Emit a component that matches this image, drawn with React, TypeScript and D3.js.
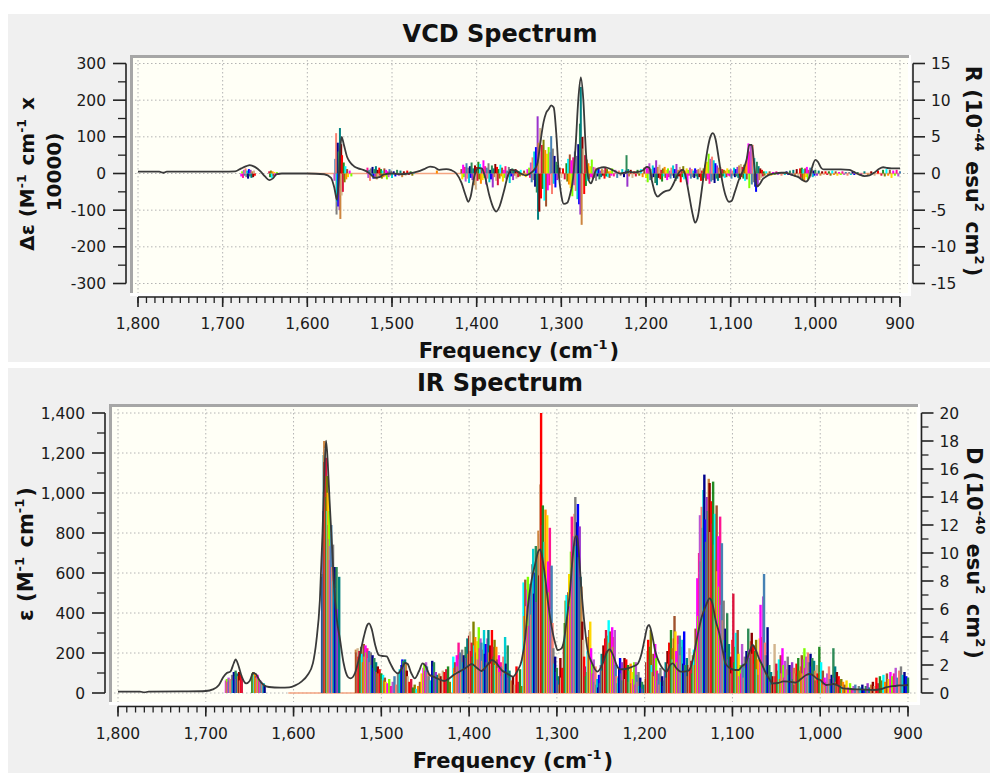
import React from "react";
import * as d3 from "d3";

const xMajorTicks = [1800, 1700, 1600, 1500, 1400, 1300, 1200, 1100, 1000, 900];
const vcdLeftTicks = [-300, -200, -100, 0, 100, 200, 300];
const vcdRightTicks = [-15, -10, -5, 0, 5, 10, 15];
const irLeftTicks = [0, 200, 400, 600, 800, 1000, 1200, 1400];
const irRightTicks = [0, 2, 4, 6, 8, 10, 12, 14, 16, 18, 20];

// Smoothed (broadened) VCD spectrum: [frequency cm-1, Δε]
const vcdCurve: [number, number][] = [
  [1800, 5], [1775, 5], [1770, 2], [1766, 5], [1700, 5], [1685, 6], [1678, 14], [1672, 20], [1668, 23], [1662, 18],
  [1655, 5], [1650, -8], [1645, -18], [1641, -14], [1636, -2], [1630, 0], [1600, 0], [1580, -2], [1572, -12], [1568, -40],
  [1565, -72], [1563, -20], [1561, 70], [1559.5, 100], [1557, 80], [1553, 45], [1550, 32], [1545, 20], [1540, 14], [1534, 10],
  [1528, 3], [1524, -5], [1520, -12], [1515, -10], [1510, -3], [1500, 0], [1490, -2], [1480, 0], [1470, 5], [1462, 12],
  [1455, 19], [1450, 17], [1444, 10], [1436, 12], [1430, 9], [1424, 0], [1418, -25], [1413, -60], [1410, -77], [1407, -62],
  [1403, -10], [1398, 15], [1394, 14], [1390, -10], [1385, -60], [1380, -95], [1377, -104], [1373, -90], [1368, -50], [1363, -5],
  [1359, 10], [1354, 8], [1348, 0], [1342, -5], [1337, 0], [1332, 10], [1328, 30], [1325, 80], [1321, 140], [1318, 165],
  [1315, 175], [1312, 186], [1309, 180], [1306, 110], [1303, 0], [1300, -60], [1297, -83], [1293, -80], [1290, -60], [1286, -10],
  [1283, 80], [1280, 200], [1277, 262], [1274, 200], [1271, 60], [1268, -15], [1265, -27], [1262, -10], [1259, 10], [1255, 15],
  [1250, 17], [1245, 15], [1240, 10], [1235, 4], [1230, 0], [1225, 2], [1220, 5], [1214, 3], [1208, 5], [1204, 8],
  [1199, 18], [1196, 15], [1193, -20], [1189, -55], [1186, -63], [1182, -55], [1177, -48], [1172, -45], [1168, -30], [1163, -5],
  [1159, 8], [1156, 10], [1153, -10], [1149, -60], [1145, -110], [1142, -134], [1139, -120], [1135, -60], [1131, 10], [1127, 70],
  [1124, 100], [1121, 110], [1118, 95], [1114, 40], [1110, -20], [1106, -60], [1102, -77], [1099, -75], [1095, -50], [1090, -15],
  [1085, 10], [1081, 40], [1078, 78], [1075, 78], [1072, 20], [1069, -36], [1066, -30], [1062, -15], [1058, -8], [1054, -3],
  [1048, 0], [1040, 2], [1035, 2], [1030, -2], [1025, -6], [1020, -10], [1015, -18], [1011, -22], [1007, -10], [1004, 15],
  [1000, 37], [997, 32], [993, 15], [990, 11], [980, 11], [970, 11], [960, 10], [955, 5], [948, -3], [942, -7],
  [936, -5], [930, 3], [925, 12], [920, 17], [915, 15], [910, 14], [900, 14],
];

// Smoothed IR spectrum: [frequency cm-1, ε]
const irCurve: [number, number][] = [
  [1800, 7], [1775, 7], [1770, 3], [1765, 7], [1720, 8], [1700, 10], [1692, 18], [1685, 40], [1680, 80], [1676, 100],
  [1672, 107], [1668, 150], [1666, 168], [1663, 140], [1659, 82], [1654, 48], [1650, 60], [1646, 100], [1643, 95], [1639, 65],
  [1634, 40], [1628, 30], [1615, 27], [1605, 28], [1598, 38], [1591, 57], [1584, 90], [1578, 148], [1574, 260], [1570, 465],
  [1567, 800], [1565, 1080], [1563, 1262], [1561, 1150], [1559, 965], [1556, 720], [1554, 548], [1551, 380], [1547, 265], [1543, 150],
  [1538, 80], [1535, 73], [1530, 100], [1525, 180], [1520, 280], [1516, 340], [1514, 348], [1511, 320], [1507, 240], [1503, 190],
  [1499, 185], [1494, 183], [1490, 150], [1485, 110], [1481, 98], [1477, 120], [1473, 150], [1470, 145], [1466, 100], [1462, 73],
  [1457, 110], [1453, 148], [1449, 130], [1445, 90], [1441, 82], [1435, 70], [1428, 60], [1422, 75], [1416, 95], [1411, 107],
  [1404, 125], [1397, 145], [1391, 125], [1386, 110], [1380, 135], [1374, 165], [1369, 150], [1363, 115], [1357, 98], [1350, 82],
  [1345, 110], [1340, 165], [1336, 280], [1333, 432], [1329, 560], [1325, 640], [1321, 710], [1319, 718], [1316, 660], [1313, 565],
  [1310, 450], [1306, 332], [1302, 250], [1299, 215], [1295, 222], [1292, 260], [1289, 360], [1285, 515], [1282, 680], [1279, 780],
  [1277, 785], [1275, 700], [1272, 515], [1268, 320], [1265, 215], [1260, 150], [1254, 107], [1248, 145], [1244, 195], [1240, 218],
  [1236, 190], [1232, 140], [1228, 118], [1222, 120], [1216, 128], [1212, 135], [1208, 145], [1204, 190], [1200, 270], [1197, 330],
  [1195, 340], [1192, 300], [1188, 210], [1183, 148], [1179, 120], [1175, 107], [1171, 140], [1168, 148], [1164, 125], [1159, 107],
  [1153, 108], [1149, 115], [1145, 170], [1140, 282], [1135, 380], [1130, 440], [1126, 473], [1123, 450], [1119, 360], [1115, 298],
  [1111, 210], [1108, 148], [1103, 125], [1097, 115], [1093, 115], [1089, 135], [1085, 148], [1081, 200], [1077, 240], [1073, 210],
  [1069, 165], [1067, 148], [1062, 100], [1058, 70], [1054, 48], [1048, 50], [1042, 58], [1035, 57], [1028, 52], [1022, 70],
  [1016, 90], [1012, 95], [1008, 88], [1004, 72], [1000, 65], [996, 48], [993, 40], [989, 42], [985, 45], [980, 38],
  [974, 23], [965, 20], [955, 18], [945, 16], [940, 15], [930, 20], [925, 28], [921, 32], [915, 35], [910, 38],
  [905, 38], [900, 40],
];

// Rotational strengths of individual conformers: [frequency cm-1, R (10^-44 esu^2 cm^2)]
const vcdSticks: [number, number][] = [
  [1678, -0.4], [1677, 0.3], [1676, -0.6], [1675, 0.5], [1674, -0.3], [1673, 0.7], [1672, -0.5], [1671, 0.4], [1670, -0.7], [1669, 0.6],
  [1668, -0.4], [1667, 0.5], [1666, -0.6], [1665, 0.3], [1664, -0.5], [1663, 0.4], [1662, -0.3], [1645, 0.3], [1644, -0.5], [1643, 0.4],
  [1642, -0.6], [1641, 0.3], [1640, -0.4], [1639, 0.2], [1638, -0.3], [1636, 0.2], [1634, -0.2],
  [1568, -1.0], [1567, 2.0], [1566, 5.5], [1565.5, -5.6], [1565, -3.8], [1564, 4.2], [1563.5, -4.5], [1563, 3.0], [1562, -5.0], [1561.5, 6.2],
  [1561, -6.2], [1560, 4.0], [1559.5, -3.0], [1559, 2.5], [1558, -2.5], [1557, 1.5], [1556, -1.2], [1555, 1.0], [1554, -0.8], [1553, 0.6],
  [1552, -0.5], [1550, 0.4], [1548, -0.4],
  [1529, 0.8], [1528, -0.6], [1527, 0.5], [1526, -1.0], [1525, 0.7], [1524, -0.4], [1523, 0.9], [1522, -0.7], [1521, 0.6], [1520, -0.5],
  [1519, 1.0], [1518, -0.8], [1517, 0.5], [1516, -0.6], [1515, 0.8], [1514, -0.3], [1513, 0.6], [1512, -0.7], [1511, 0.4], [1510, -0.5],
  [1509, 0.7], [1508, -0.4], [1507, 0.5], [1506, -0.8], [1505, 0.3], [1504, -0.5], [1503, 0.6], [1502, -0.3], [1501, 0.4], [1500, -0.6],
  [1498, 0.3], [1496, -0.4], [1494, 0.5], [1492, -0.3], [1490, 0.4], [1488, -0.5], [1486, 0.3], [1484, -0.3], [1482, 0.4], [1480, -0.2],
  [1478, 0.3], [1476, -0.3], [1474, 0.2], [1447, 0.4],
  [1418, 0.6], [1417, -0.8], [1416, 1.2], [1415, -0.5], [1414, 0.9], [1413, -1.1], [1412, 1.4], [1411, -0.7], [1410, 0.8], [1409, -1.3],
  [1408, 1.0], [1407, -0.6], [1406, 1.5], [1405, -0.9], [1404, 0.7], [1403, -1.6], [1402, 1.1], [1401, -2.2], [1400, 0.9], [1399, -1.0],
  [1398, 1.6], [1397, -0.8], [1396, 1.3], [1395, -1.4], [1394, 0.6], [1393, -0.9], [1392, 1.8], [1391, -0.6], [1390, 1.0], [1389, -1.5],
  [1388, 0.8], [1387, -0.7], [1386, 1.4], [1385, -1.2], [1384, 0.5], [1383, -0.8], [1382, 1.1], [1381, -1.9], [1380, 0.7], [1379, -0.5],
  [1378, 1.3], [1377, -1.0], [1376, 0.9], [1375, -1.6], [1374, 0.6], [1373, -0.7], [1372, 1.2], [1371, -0.4], [1370, 0.8], [1369, -1.1],
  [1368, 0.5], [1367, -0.6], [1366, 1.0], [1365, -0.8], [1364, 0.4], [1363, -0.5], [1362, 0.9], [1361, -1.3], [1360, 0.6], [1359, -0.4],
  [1358, 0.7], [1357, -0.9], [1356, 0.5], [1355, -0.3], [1354, 0.6], [1353, -0.7], [1352, 0.4], [1351, -0.5], [1350, 0.3], [1349, -0.4],
  [1348, 0.5], [1346, -0.3], [1344, 0.4], [1342, -0.5], [1340, 0.6],
  [1338, 0.8], [1337, -0.6], [1336, 1.5], [1335, -1.2], [1334, 2.2], [1333, -0.9], [1332, 3.0], [1331, -1.8], [1330, 3.6], [1329, -2.6],
  [1328, 7.8], [1327.5, -6.3], [1327, 4.2], [1326, -5.2], [1325, 6.2], [1324, -3.4], [1323, 3.9], [1322, -2.1], [1321, 4.6], [1320, -3.7],
  [1319, 3.2], [1318, -4.5], [1317, 2.7], [1316, -2.3], [1315, 3.6], [1314, -1.6], [1313, 2.9], [1312, 5.1], [1311, -2.8], [1310, 3.4],
  [1309, -1.4], [1308, 2.4], [1307, -1.9], [1306, 1.6], [1305, -0.9], [1304, 1.2], [1303, -0.7], [1302, 0.8], [1300, -0.6], [1298, 0.7],
  [1296, -0.8], [1294, 1.4], [1293, -1.1], [1292, 2.0],
  [1291, -1.5], [1290, 2.6], [1289, -2.0], [1288, 1.8], [1287, -3.1], [1286, 2.2], [1285, -1.6], [1284, 3.0], [1283, -2.4], [1282, 2.4],
  [1281, -3.5], [1280, 4.0], [1279, -4.2], [1278, 6.8], [1277.5, -5.6], [1277, 11.8], [1276, -7.0], [1275, 5.0], [1274, 3.4], [1273, -2.8],
  [1272, 2.5], [1271, -1.7], [1270, 1.9], [1269, -1.0], [1268, 1.4], [1267, -0.8], [1266, 1.0], [1265, -0.5], [1264, 1.9], [1263, -0.7],
  [1262, 0.9],
  [1261, -0.6], [1260, 0.8], [1259, -1.0], [1258, 0.5], [1257, -0.4], [1256, 0.7], [1255, -0.8], [1254, 0.4], [1253, -0.5], [1252, 0.6],
  [1251, -0.3], [1250, 0.5], [1249, -0.7], [1248, 0.9], [1247, -0.4], [1246, 0.6], [1245, -0.5], [1244, 0.3], [1243, -0.6], [1242, 0.4],
  [1241, -0.3], [1240, 0.7], [1238, -0.4], [1236, 0.5], [1234, -0.6], [1232, 0.4], [1230, -0.3], [1228, 0.6], [1226, -0.5], [1224, 0.4],
  [1223, 2.5], [1222, -1.8], [1221, 0.6], [1220, -0.4], [1218, 0.5], [1216, -0.6], [1214, 0.3], [1212, -0.4], [1210, 0.5], [1208, -0.3],
  [1206, 0.6], [1204, -0.5], [1202, 0.8], [1200, -0.6], [1199, 1.0], [1198, -1.2], [1197, 0.7], [1196, 1.4], [1195, -0.9], [1194, 0.6],
  [1193, -0.7], [1192, 1.1], [1191, -0.5], [1190, 0.8],
  [1189, -1.3], [1188, 1.8], [1187, -1.6], [1186, 0.9], [1185, -0.6], [1184, 1.2], [1183, -0.8], [1182, 0.5], [1181, -1.1], [1180, 0.7],
  [1179, -0.4], [1178, 0.9], [1177, -0.6], [1176, 0.5], [1175, -0.9], [1174, 0.7], [1173, -0.5], [1172, 0.4], [1171, -0.7], [1170, 0.8],
  [1169, -0.3], [1168, 1.1], [1167, -0.6], [1166, 0.6], [1165, -1.0], [1164, 1.3], [1163, -0.7], [1162, 0.5], [1161, -0.4], [1160, 0.9],
  [1159, -1.2], [1158, 0.6], [1157, -0.5], [1156, 1.0], [1155, -0.8], [1154, 0.4], [1153, -0.6], [1152, 0.7], [1151, -1.5], [1150, 0.5],
  [1149, -0.3], [1148, 0.8], [1147, -0.7], [1146, 0.6], [1145, -0.5], [1144, 0.4], [1143, -0.6], [1142, 0.7], [1141, -0.4], [1140, 0.5],
  [1139, -0.8], [1138, 0.6], [1137, -0.5], [1136, 0.8], [1135, -1.0], [1134, 0.4], [1133, -0.9], [1132, 0.7],
  [1131, -0.6], [1130, 1.2], [1129, -1.0], [1128, 1.6], [1127, -0.8], [1126, 2.7], [1125, -1.4], [1124, 2.0], [1123, -1.1], [1122, 2.3],
  [1121, -0.9], [1120, 1.8], [1119, -1.3], [1118, 1.4], [1117, -0.7], [1116, 1.1], [1115, -1.0], [1114, 0.8], [1113, -0.6], [1112, 0.9],
  [1111, -0.5], [1110, 0.6], [1109, -0.4], [1108, 0.5], [1107, -0.6], [1106, 0.4], [1105, -0.5], [1104, 0.7], [1103, -0.3], [1102, 0.5],
  [1101, -0.4], [1100, 0.6], [1099, -0.7], [1098, 0.4], [1097, -0.3], [1096, 0.8], [1095, -0.5], [1094, 0.6], [1093, -0.4], [1092, 0.9],
  [1091, -0.6], [1090, 1.1], [1089, -0.8], [1088, 1.3], [1087, -0.5],
  [1086, 0.9], [1085, -0.7], [1084, 1.2], [1083, -1.0], [1082, 1.6], [1081, -0.8], [1080, 2.4], [1079, 4.1], [1078, -2.0], [1077, 3.0],
  [1076, 4.0], [1075, -1.5], [1074, 3.9], [1073, -1.2], [1072, 2.1], [1071, -1.8], [1070, -2.5], [1069, 1.6], [1068, -1.8], [1067, 1.0],
  [1066, -0.9], [1065, 0.7], [1064, -0.6], [1063, 0.5], [1062, -0.4], [1061, 0.3], [1060, -0.3],
  [1058, 0.3], [1056, -0.2], [1054, 0.3], [1052, -0.3], [1050, 0.2], [1048, -0.2], [1046, 0.3], [1044, -0.2], [1042, 0.2], [1040, -0.3],
  [1038, 0.2], [1036, -0.2], [1034, 0.3], [1032, -0.2], [1030, 0.4], [1028, -0.3], [1026, 0.5], [1024, -0.4], [1022, 0.6], [1020, -0.5],
  [1018, 0.7], [1017, -0.6], [1016, 0.8], [1015, -0.9], [1014, 0.6], [1013, -1.1], [1012, 0.7], [1011, -0.5], [1010, 0.9], [1009, -0.8],
  [1008, 0.5], [1007, -0.6], [1006, 0.8], [1005, -0.4], [1004, 0.6], [1003, -0.5], [1002, 0.4], [1001, -0.3], [1000, 0.5], [998, -0.3],
  [996, 0.4], [994, -0.3], [992, 0.3], [990, -0.2], [988, 0.3], [986, -0.2], [984, 0.3], [982, -0.3], [980, 0.4], [978, -0.2],
  [976, 0.3], [974, -0.3], [972, 0.2], [970, -0.2], [968, 0.3], [966, -0.2], [964, 0.2], [962, -0.3], [960, 0.2], [958, -0.2],
  [956, 0.3], [954, -0.2], [950, 0.2], [946, -0.2], [942, 0.3], [938, -0.2], [934, 0.3], [930, -0.3], [926, 0.4], [922, -0.3],
  [920, 0.5], [918, -0.4], [916, 0.6], [914, -0.3], [912, 0.5], [910, -0.6], [908, 0.4], [906, -0.3], [904, 0.5], [902, -0.4],
  [900, 0.3],
];

// Dipole strengths of individual conformers: [frequency cm-1, D (10^-40 esu^2 cm^2)]
const irSticks: [number, number][] = [
  [1677, 0.9], [1676, 1.0], [1675, 0.8], [1674, 1.1], [1673, 0.9], [1672, 1.0], [1670, 1.3], [1669, 0.9], [1668, 1.5], [1667, 1.2],
  [1666, 1.6], [1665, 1.0], [1664, 1.4], [1663, 1.2], [1662, 1.5], [1661, 0.9], [1660, 1.3], [1659, 1.1],
  [1647, 1.4], [1646, 1.5], [1645, 1.3], [1644, 1.4], [1643, 1.2], [1642, 1.1], [1641, 1.3], [1640, 1.0], [1639, 0.9], [1638, 0.9],
  [1637, 0.8], [1636, 0.7], [1635, 0.6], [1634, 0.7], [1633, 0.5],
  [1567.5, 8.3], [1567, 8.5], [1566, 13.0], [1565.5, 17.0], [1565, 18.0], [1564.5, 16.5], [1564, 17.5], [1563.5, 15.0], [1563, 16.8], [1562.5, 14.0],
  [1562, 15.5], [1561.5, 13.0], [1561, 14.3], [1560.5, 12.0], [1560, 14.3], [1559.5, 11.0], [1559, 13.0], [1558.5, 9.5], [1558, 10.5], [1557, 12.0],
  [1556, 9.0], [1555, 10.6], [1554, 8.0], [1553, 9.0], [1552, 7.5], [1551, 9.0], [1550, 6.0], [1548, 8.3],
  [1529, 3.1], [1528, 2.9], [1527, 3.2], [1526, 2.6], [1525, 3.0], [1524, 2.4], [1523, 3.3], [1522, 2.8], [1521, 2.2], [1520, 3.5],
  [1519, 2.6], [1518, 3.4], [1517, 2.9], [1516, 3.2], [1515, 2.5], [1514, 3.0], [1513, 2.2], [1512, 2.9], [1511, 2.0], [1510, 2.7],
  [1509, 1.8], [1508, 2.5], [1507, 1.6], [1506, 2.2], [1505, 1.5], [1504, 1.9], [1503, 1.4], [1502, 1.7], [1501, 1.2], [1500, 1.4],
  [1499, 1.0], [1498, 1.3], [1497, 0.9], [1496, 1.1], [1495, 0.8],
  [1493, 0.7], [1491, 1.0], [1489, 0.5], [1487, 0.8], [1485, 1.2], [1483, 0.6], [1481, 1.4], [1479, 1.7], [1477, 2.0], [1476, 2.4],
  [1475, 2.3], [1474, 1.9], [1473, 2.4], [1472, 2.1], [1471, 1.6], [1470, 1.2], [1468, 0.8], [1466, 1.0], [1464, 0.4], [1462, 0.6],
  [1460, 0.3], [1458, 0.5], [1456, 0.8], [1454, 1.4], [1452, 1.8], [1451, 2.1], [1450, 1.6], [1449, 2.2], [1448, 1.9], [1447, 1.5],
  [1446, 1.2], [1444, 0.9], [1442, 2.3], [1441, 1.9], [1440, 2.2],
  [1438, 1.5], [1436, 1.3], [1434, 1.4], [1432, 1.2], [1430, 1.6], [1428, 1.5], [1426, 1.7], [1424, 1.9], [1422, 0.8],
  [1418, 2.6], [1417, 1.8], [1416, 2.2], [1415, 1.5], [1414, 2.7], [1413, 1.9], [1412, 3.6], [1411, 2.4], [1410, 2.9], [1409, 1.6],
  [1408, 3.1], [1407, 2.2], [1406, 2.7], [1405, 1.8], [1404, 3.3], [1403, 2.5], [1402, 3.9], [1401, 2.8], [1400, 4.1], [1399, 4.4],
  [1398, 3.0], [1397, 3.6], [1396, 2.6], [1395, 5.1], [1394, 3.4], [1393, 4.0], [1392, 2.9], [1391, 3.7], [1390, 2.4], [1389, 4.7],
  [1388, 3.2], [1387, 3.9], [1386, 3.6], [1385, 2.3], [1384, 3.1], [1383, 4.5], [1382, 2.8], [1381, 3.5], [1380, 2.2], [1379, 3.9],
  [1378, 4.5], [1377, 2.9], [1376, 3.4], [1375, 2.1], [1374, 4.5], [1373, 3.3], [1372, 2.6], [1371, 3.8], [1370, 2.0], [1369, 3.3],
  [1368, 2.4], [1367, 1.8], [1366, 2.7], [1365, 1.5], [1364, 2.2], [1363, 1.2], [1362, 1.9], [1361, 2.6], [1360, 1.4], [1359, 4.0],
  [1358, 2.1], [1357, 1.7], [1356, 3.4], [1355, 1.1], [1354, 1.6], [1352, 0.9], [1350, 1.2], [1348, 0.6], [1346, 1.9], [1344, 0.8],
  [1342, 1.7], [1340, 0.5],
  [1338, 7.9], [1337, 5.5], [1336, 8.1], [1335, 6.2], [1334, 7.4], [1333, 8.3], [1332, 4.8], [1331, 6.9], [1330, 7.8], [1329, 5.6],
  [1328, 9.2], [1327, 10.3], [1326, 7.1], [1325, 8.6], [1324, 10.5], [1323, 6.5], [1322, 9.8], [1321, 11.6], [1320, 8.4], [1319, 14.9],
  [1318, 20.0], [1317, 12.0], [1316, 13.4], [1315, 9.6], [1314, 10.8], [1313, 13.1], [1312, 8.0], [1311, 12.7], [1310, 9.4], [1309, 7.2],
  [1308, 11.8], [1307, 6.0], [1306, 9.1], [1305, 5.0], [1304, 3.2], [1303, 2.1], [1302, 2.6], [1301, 1.5], [1300, 1.8], [1299, 0.9],
  [1298, 1.2], [1297, 0.6], [1296, 2.5], [1295, 1.1], [1294, 1.8],
  [1292, 3.5], [1291, 5.0], [1290, 6.6], [1289, 7.0], [1288, 5.4], [1287, 7.2], [1286, 8.5], [1285, 6.2], [1284, 10.1], [1283, 12.6],
  [1282, 9.0], [1281, 11.2], [1280, 12.8], [1279, 14.0], [1278, 10.5], [1277, 12.2], [1276, 13.5], [1275, 9.7], [1274, 11.9], [1273, 8.3],
  [1272, 7.6], [1271, 5.1], [1270, 3.8], [1269, 2.6], [1268, 1.9], [1267, 1.2],
  [1266, 1.5], [1265, 3.0], [1264, 4.0], [1263, 4.5], [1262, 5.1], [1261, 3.2], [1260, 2.1], [1259, 1.4], [1258, 2.4], [1257, 0.8],
  [1256, 1.9], [1255, 0.6], [1254, 1.0], [1253, 0.4], [1252, 1.3], [1251, 0.7], [1250, 2.0], [1249, 2.8], [1248, 1.6], [1247, 3.4],
  [1246, 2.2], [1245, 3.9], [1244, 4.5], [1243, 3.0], [1242, 4.1], [1241, 5.2], [1240, 3.6], [1239, 4.4], [1238, 2.9], [1237, 4.7],
  [1236, 3.3], [1235, 4.0], [1234, 4.5], [1233, 2.0], [1232, 1.2], [1231, 0.7], [1230, 1.1], [1229, 1.8], [1228, 2.5], [1227, 1.4],
  [1226, 2.2], [1225, 0.9], [1224, 1.7], [1223, 2.5], [1222, 1.0], [1221, 2.4], [1220, 1.3], [1219, 2.0], [1218, 0.8], [1217, 1.6],
  [1216, 2.1], [1215, 0.7], [1214, 1.5], [1213, 1.0], [1212, 2.2], [1211, 0.6], [1210, 2.2], [1209, 1.3], [1208, 0.8], [1207, 1.5],
  [1206, 0.5], [1205, 1.1], [1204, 0.4], [1203, 0.8], [1202, 0.3], [1201, 0.6],
  [1199, 1.0], [1198, 2.2], [1197, 3.0], [1196, 3.8], [1195, 2.4], [1194, 3.3], [1193, 4.5], [1192, 2.0], [1191, 1.5], [1190, 2.8],
  [1189, 1.2], [1188, 3.5], [1187, 2.5], [1186, 1.6], [1185, 0.9], [1184, 1.4], [1183, 0.6], [1182, 1.8], [1181, 0.8], [1180, 1.2],
  [1179, 0.5], [1178, 0.9], [1177, 1.6], [1176, 2.2], [1175, 1.1], [1174, 3.0], [1173, 2.1], [1172, 3.6], [1171, 2.8], [1170, 4.5],
  [1169, 3.2], [1168, 2.4], [1167, 3.9], [1166, 5.5], [1165, 4.4], [1164, 3.0], [1163, 2.2], [1162, 4.1], [1161, 3.5], [1160, 4.1],
  [1159, 2.7], [1158, 3.3], [1157, 3.8], [1156, 2.1], [1155, 4.4], [1154, 2.0], [1153, 1.5], [1152, 2.5], [1151, 1.2], [1150, 2.0],
  [1149, 3.2], [1148, 1.8], [1147, 2.3], [1146, 1.4], [1145, 2.7], [1144, 3.1], [1143, 2.0], [1142, 4.6], [1141, 3.4],
  [1140, 8.2], [1139, 5.5], [1138, 10.0], [1137, 12.7], [1136, 9.4], [1135, 13.3], [1134, 11.8], [1133, 14.5], [1132, 15.6], [1131, 12.4],
  [1130, 10.8], [1129, 14.0], [1128, 13.0], [1127, 15.3], [1126, 15.0], [1125, 11.5], [1124, 13.7], [1123, 12.1], [1122, 15.1], [1121, 10.6],
  [1120, 12.8], [1119, 9.5], [1118, 13.4], [1117, 8.7], [1116, 11.2], [1115, 7.6], [1114, 12.6], [1113, 6.3], [1112, 10.7], [1111, 5.2],
  [1110, 6.6], [1109, 3.8], [1108, 4.6], [1107, 2.9], [1106, 5.7], [1105, 2.4], [1104, 3.5], [1103, 1.8], [1102, 2.6], [1101, 1.4],
  [1100, 3.8], [1099, 7.1], [1098, 2.2], [1097, 3.3], [1096, 4.3], [1095, 1.6], [1094, 4.5], [1093, 2.8], [1092, 1.2],
  [1091, 2.0], [1090, 1.4], [1089, 3.5], [1088, 2.1], [1087, 1.1], [1086, 2.6], [1085, 1.8], [1084, 3.0], [1083, 2.3], [1082, 4.6],
  [1081, 3.1], [1080, 2.5], [1079, 3.7], [1078, 4.3], [1077, 2.8], [1076, 3.4], [1075, 2.1], [1074, 3.0], [1073, 3.8], [1072, 1.7],
  [1071, 2.4], [1070, 1.3], [1069, 3.9], [1068, 6.3], [1067, 2.2], [1066, 4.0], [1065, 6.9], [1064, 8.5], [1063, 3.6], [1062, 2.7],
  [1061, 1.9], [1060, 4.7], [1059, 1.2], [1058, 2.0], [1057, 0.8], [1056, 1.5], [1055, 0.6], [1054, 1.2],
  [1052, 3.5], [1051, 1.2], [1050, 2.1], [1049, 0.8], [1048, 1.6], [1047, 2.4], [1046, 1.0], [1045, 2.7], [1044, 1.4], [1043, 3.2],
  [1042, 2.0], [1041, 1.1], [1040, 2.3], [1039, 0.9], [1038, 1.7], [1037, 2.6], [1036, 1.3], [1035, 2.0], [1034, 0.7], [1033, 1.5],
  [1032, 2.2], [1031, 1.0], [1030, 1.8], [1029, 0.6], [1028, 1.4], [1027, 2.1], [1026, 1.2], [1025, 2.5], [1024, 1.6], [1023, 0.8],
  [1022, 1.9], [1021, 2.7], [1020, 1.4], [1019, 2.4], [1018, 3.2], [1017, 1.8], [1016, 2.6], [1015, 1.1], [1014, 2.9], [1013, 2.2],
  [1012, 1.5], [1011, 2.8], [1010, 1.9], [1009, 2.5], [1008, 1.2], [1007, 2.3], [1006, 1.6], [1005, 0.9], [1004, 2.0], [1003, 1.4],
  [1002, 0.7], [1001, 3.3], [1000, 1.5], [999, 2.2], [998, 1.0], [997, 1.6], [996, 0.6], [995, 1.1], [994, 0.5], [993, 0.8],
  [992, 1.4], [991, 0.6], [990, 1.9], [989, 1.0], [988, 0.5], [987, 1.3], [986, 0.7], [985, 3.2], [984, 1.1], [983, 1.9],
  [982, 0.8], [981, 1.5], [980, 0.6], [979, 1.2], [978, 0.9], [977, 0.4], [976, 1.0], [975, 0.5], [974, 0.8], [972, 0.6],
  [970, 0.9], [968, 0.4], [966, 0.7], [964, 0.3], [962, 0.5], [960, 0.6], [958, 0.3], [956, 0.5], [954, 0.4], [952, 0.6],
  [950, 0.3], [948, 0.5], [946, 0.7], [944, 0.4], [942, 0.6], [940, 0.8], [938, 0.5], [936, 1.1], [934, 0.7], [932, 1.2],
  [930, 0.9], [928, 1.3], [926, 0.8], [924, 1.4], [922, 1.0], [920, 1.5], [918, 1.2], [916, 1.4], [914, 1.8], [912, 1.1],
  [910, 1.6], [908, 1.9], [906, 1.3], [904, 1.5], [902, 1.2], [900, 1.1],
];

const stickPalette = [
  "#ff00ff", "#00ced1", "#8b0000", "#ff8c00", "#4682b4", "#9932cc", "#228b22", "#7fff00",
  "#00008b", "#d2b48c", "#a0522d", "#fa8072", "#008080", "#808000", "#ff1493", "#0000ff",
  "#ff0000", "#ffd700", "#808080", "#cd853f", "#00ffff", "#ba55d3", "#2e8b57", "#dc143c",
];

const FONT = "DejaVu Sans, Verdana, sans-serif";
const fmtBase = d3.format(",");
const fmt = (v: number) => fmtBase(v).replace("\u2212", "-");
const xMinor = d3.range(900, 1801, 10);

type PanelCfg = {
  title: string;
  titleY: number;
  bg: [number, number];
  frame: { l: number; t: number; r: number; b: number };
  x: d3.ScaleLinear<number, number>;
  yL: d3.ScaleLinear<number, number>;
  yR: d3.ScaleLinear<number, number>;
  axL: number;
  axR: number;
  axB: number;
  leftTicks: number[];
  leftMinor: number[];
  rightTicks: number[];
  rightMinor: number[];
  sticks: [number, number][];
  stickW: number;
  curve: [number, number][];
  zeroFrom: number;
  leftTitle: React.ReactNode;
  rightTitle: React.ReactNode;
};

function sup(t: string, size: number) {
  return (
    <>
      <tspan dy={-size * 0.42} fontSize={size * 0.62}>{t}</tspan>
      <tspan dy={size * 0.42}>{"\u200a"}</tspan>
    </>
  );
}

function Panel(c: PanelCfg) {
  const { frame: f, x, yL, yR } = c;
  const line = d3
    .line<[number, number]>()
    .x((d) => x(d[0]))
    .y((d) => yL(d[1]))
    .curve(d3.curveMonotoneX);
  const x0 = x.range()[0];
  const x1 = x.range()[1];
  const gridStyle = { stroke: "#b4b4b4", strokeWidth: 1, strokeDasharray: "1.5,2.5" };
  return (
    <g>
      <rect x={8} y={c.bg[0]} width={982} height={c.bg[1] - c.bg[0]} fill="#f0f0f0" />
      <text x={500} y={c.titleY} textAnchor="middle" fontFamily={FONT} fontWeight="bold" fontSize={24} fill="#111">
        {c.title}
      </text>
      <rect x={f.l - 3} y={f.t - 3} width={f.r - f.l + 6} height={f.b - f.t + 6} fill="#ffffff" />
      <rect x={f.l} y={f.t} width={f.r - f.l} height={f.b - f.t} fill="#fffff6" />
      {xMajorTicks.map((t) => (
        <line key={"gx" + t} x1={x(t)} x2={x(t)} y1={f.t + 2} y2={f.b} {...gridStyle} />
      ))}
      {c.leftTicks.map((t) => (
        <line key={"gy" + t} x1={f.l + 2} x2={f.r} y1={yL(t)} y2={yL(t)} {...gridStyle} />
      ))}
      <line x1={x(c.zeroFrom)} x2={x(900)} y1={yR(0)} y2={yR(0)} stroke="#f4a582" strokeWidth={1.6} />
      {c.sticks.map((s, i) => (
        <line
          key={"s" + i}
          x1={x(s[0])}
          x2={x(s[0])}
          y1={yR(0)}
          y2={yR(s[1])}
          stroke={stickPalette[(i * 7) % stickPalette.length]}
          strokeWidth={c.stickW}
        />
      ))}
      <path d={line(c.curve) || ""} fill="none" stroke="#3a3a3a" strokeWidth={1.8} />
      <line x1={f.l - 3} x2={f.r + 1} y1={f.t - 1.5} y2={f.t - 1.5} stroke="#a6a6a6" strokeWidth={3} />
      <line x1={f.l - 1.5} x2={f.l - 1.5} y1={f.t - 3} y2={f.b} stroke="#a6a6a6" strokeWidth={3} />

      {/* left axis */}
      <line x1={c.axL} x2={c.axL} y1={yL(c.leftTicks[c.leftTicks.length - 1])} y2={yL(c.leftTicks[0])} stroke="#222" strokeWidth={1.6} />
      {c.leftMinor.map((t) => (
        <line key={"lm" + t} x1={c.axL - 8} x2={c.axL} y1={yL(t)} y2={yL(t)} stroke="#222" strokeWidth={1.3} />
      ))}
      {c.leftTicks.map((t) => (
        <g key={"lt" + t}>
          <line x1={c.axL - 13} x2={c.axL} y1={yL(t)} y2={yL(t)} stroke="#222" strokeWidth={1.6} />
          <text x={c.axL - 20} y={yL(t) + 5.5} textAnchor="end" fontFamily={FONT} fontSize={15.5} fill="#1a1a1a">
            {fmt(t)}
          </text>
        </g>
      ))}
      {/* right axis */}
      <line x1={c.axR} x2={c.axR} y1={yR(c.rightTicks[c.rightTicks.length - 1])} y2={yR(c.rightTicks[0])} stroke="#222" strokeWidth={1.6} />
      {c.rightMinor.map((t) => (
        <line key={"rm" + t} x1={c.axR} x2={c.axR + 7} y1={yR(t)} y2={yR(t)} stroke="#222" strokeWidth={1.3} />
      ))}
      {c.rightTicks.map((t) => (
        <g key={"rt" + t}>
          <line x1={c.axR} x2={c.axR + 12} y1={yR(t)} y2={yR(t)} stroke="#222" strokeWidth={1.6} />
          <text x={c.axR + 18} y={yR(t) + 5.5} textAnchor="start" fontFamily={FONT} fontSize={15.5} fill="#1a1a1a">
            {fmt(t)}
          </text>
        </g>
      ))}
      {/* bottom axis */}
      <line x1={x0} x2={x1} y1={c.axB} y2={c.axB} stroke="#222" strokeWidth={1.6} />
      {xMinor.map((t) => (
        <line key={"xm" + t} x1={x(t)} x2={x(t)} y1={c.axB} y2={c.axB + 6} stroke="#222" strokeWidth={1.3} />
      ))}
      {xMajorTicks.map((t) => (
        <g key={"xt" + t}>
          <line x1={x(t)} x2={x(t)} y1={c.axB} y2={c.axB + 10} stroke="#222" strokeWidth={1.6} />
          <text x={x(t)} y={c.axB + 32} textAnchor="middle" fontFamily={FONT} fontSize={15.5} fill="#1a1a1a">
            {fmt(t)}
          </text>
        </g>
      ))}
      <text x={(x0 + x1) / 2} y={c.axB + 61} textAnchor="middle" fontFamily={FONT} fontWeight="bold" fontSize={21} fill="#111">
        Frequency (cm{sup("-1", 21)})
      </text>
      {c.leftTitle}
      {c.rightTitle}
    </g>
  );
}

export default function App() {
  const xTop = d3.scaleLinear().domain([1800, 900]).range([138, 900]);
  const yTopL = d3.scaleLinear().domain([-300, 300]).range([283.5, 63.5]);
  const yTopR = d3.scaleLinear().domain([-15, 15]).range([283.5, 63.5]);
  const xBot = d3.scaleLinear().domain([1800, 900]).range([118, 908]);
  const yBotL = d3.scaleLinear().domain([0, 1400]).range([693, 413]);
  const yBotR = d3.scaleLinear().domain([0, 20]).range([693, 413]);

  const titleProps = { fontFamily: FONT, fontWeight: "bold" as const, fill: "#111", textAnchor: "middle" as const };

  return (
    <svg width={990} height={773} style={{ position: "absolute", left: 0, top: 0, background: "#fff" }}>
      <rect x={0} y={0} width={990} height={773} fill="#ffffff" />
      <Panel
        title="VCD Spectrum"
        titleY={42}
        bg={[14, 362]}
        frame={{ l: 133, t: 58, r: 908, b: 293 }}
        x={xTop}
        yL={yTopL}
        yR={yTopR}
        axL={126}
        axR={913}
        axB={297}
        leftTicks={vcdLeftTicks}
        leftMinor={d3.range(-250, 300, 100)}
        rightTicks={vcdRightTicks}
        rightMinor={d3.range(-12.5, 15, 5)}
        sticks={vcdSticks}
        stickW={2}
        curve={vcdCurve}
        zeroFrom={1600}
        leftTitle={
          <g>
            <text transform="translate(34,174) rotate(-90)" fontSize={20} {...titleProps}>
              Δε (M{sup("-1", 20)} cm{sup("-1", 20)} x
            </text>
            <text transform="translate(61,172) rotate(-90)" fontSize={20} {...titleProps}>
              10000)
            </text>
          </g>
        }
        rightTitle={
          <text transform="translate(966,171) rotate(90)" fontSize={21} {...titleProps}>
            R (10{sup("-44", 21)} esu{sup("2", 21)} cm{sup("2", 21)})
          </text>
        }
      />
      <Panel
        title="IR Spectrum"
        titleY={391}
        bg={[368, 773]}
        frame={{ l: 112, t: 407, r: 917, b: 702 }}
        x={xBot}
        yL={yBotL}
        yR={yBotR}
        axL={105}
        axR={921.5}
        axB={706.5}
        leftTicks={irLeftTicks}
        leftMinor={d3.range(100, 1400, 200)}
        rightTicks={irRightTicks}
        rightMinor={d3.range(1, 20, 2)}
        sticks={irSticks}
        stickW={2.4}
        curve={irCurve}
        zeroFrom={1606}
        leftTitle={
          <text transform="translate(33,554) rotate(-90)" fontSize={21} {...titleProps}>
            ε (M{sup("-1", 21)} cm{sup("-1", 21)})
          </text>
        }
        rightTitle={
          <text transform="translate(967,553) rotate(90)" fontSize={21} {...titleProps}>
            D (10{sup("-40", 21)} esu{sup("2", 21)} cm{sup("2", 21)})
          </text>
        }
      />
    </svg>
  );
}
